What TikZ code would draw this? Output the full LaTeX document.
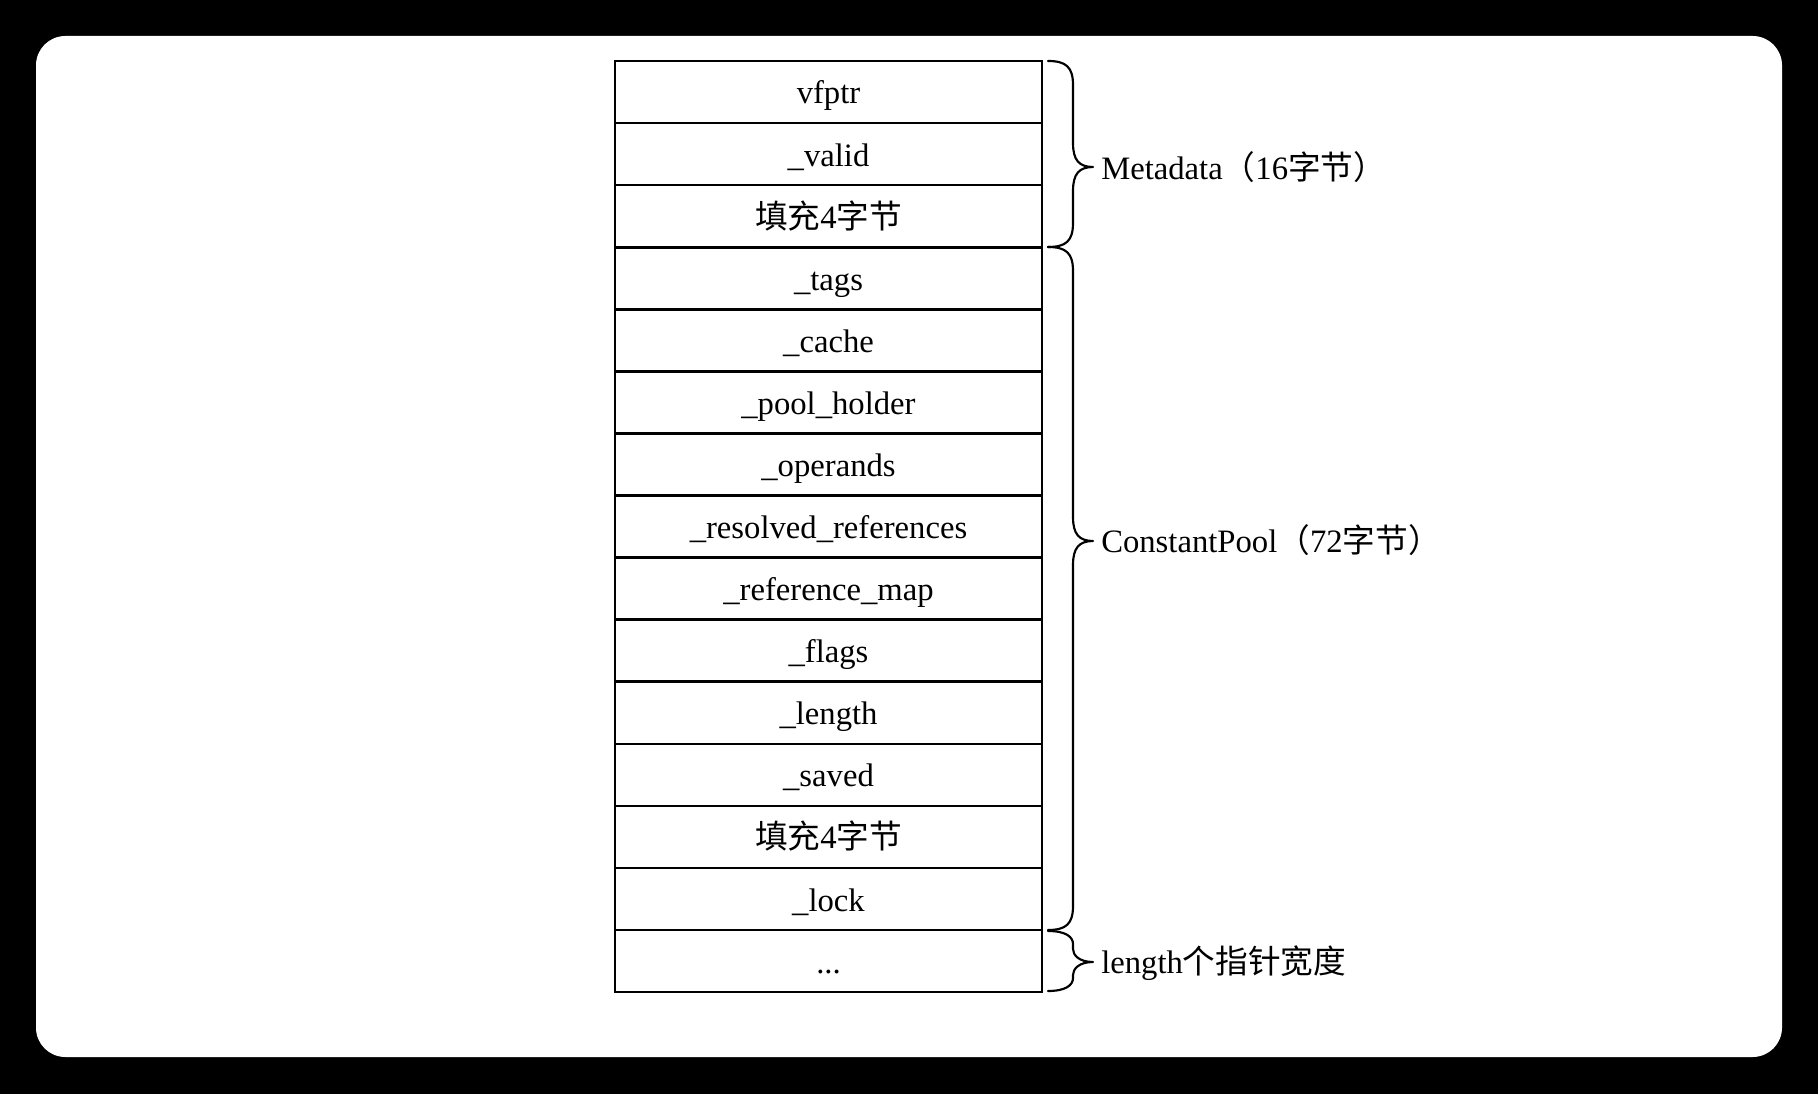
\documentclass[tikz,border=0pt]{standalone}
\usepackage{fontspec}
\setmainfont{Liberation Serif}
\newfontfamily\cjk{Noto Sans CJK SC}
\usepackage{tikz}

% curly brace: top y, tip y, bottom y, curl length
\newcommand{\sizebrace}[4]{%
  \draw[brace line] (1048,#1) .. controls (1066,#1) and (1073,#1+6) .. (1073,#1+#4)
    -- (1073,#2-#4) .. controls (1073,#2-7) and (1079,#2) .. (1093,#2)
    .. controls (1079,#2) and (1073,#2+7) .. (1073,#2+#4)
    -- (1073,#3-#4) .. controls (1073,#3-6) and (1066,#3) .. (1048,#3);}

\begin{document}
\begin{tikzpicture}[x=0.75pt,y=0.75pt,yscale=-1,xscale=1,
    font=\fontsize{24.5}{29}\selectfont,
    field/.style={draw, line width=1.9pt, minimum width=320.25pt, minimum height=46.55pt, inner sep=0pt, text height=20pt, text depth=2pt},
    side label/.style={anchor=west, inner sep=0pt},
    brace line/.style={line width=1.6pt, line cap=round, line join=round}]

        % Background
        \fill[black] (0,0) rectangle (1818,1094);
        \fill[white, rounded corners=22pt] (36,36) rectangle (1782,1057);

        % Fields
        \node[field] (vfptr) at (828.5,92) {vfptr};
        \node[field] (valid) at (828.5,154.1) {\_valid};
        \node[field] (padA) at (828.5,216.2) {{\cjk 填充}4{\cjk 字节}};
        \node[field] (tags) at (828.5,278.3) {\_tags};
        \node[field] (cache) at (828.5,340.4) {\_cache};
        \node[field] (holder) at (828.5,402.4) {\_pool\_holder};
        \node[field] (operands) at (828.5,464.5) {\_operands};
        \node[field] (resolved) at (828.5,526.6) {\_resolved\_references};
        \node[field] (refmap) at (828.5,588.7) {\_reference\_map};
        \node[field] (flags) at (828.5,650.7) {\_flags};
        \node[field] (length) at (828.5,712.8) {\_length};
        \node[field] (saved) at (828.5,774.9) {\_saved};
        \node[field] (padB) at (828.5,836.9) {{\cjk 填充}4{\cjk 字节}};
        \node[field] (lock) at (828.5,899) {\_lock};
        \node[field] (rest) at (828.5,961.1) {...};

        % Braces
        \sizebrace{61}{167}{247}{24}
        \sizebrace{247}{541}{930}{24}
        \sizebrace{931}{962}{991}{13}

        % Text Node
        \node[side label] (meta) at (1101,167) {Metadata{\cjk （}16{\cjk 字节）}};
        % Text Node
        \node[side label] (pool) at (1101,540) {ConstantPool{\cjk （}72{\cjk 字节）}};
        % Text Node
        \node[side label] (ptrs) at (1101,963) {length{\cjk 个指针宽度}};

\end{tikzpicture}
\end{document}
